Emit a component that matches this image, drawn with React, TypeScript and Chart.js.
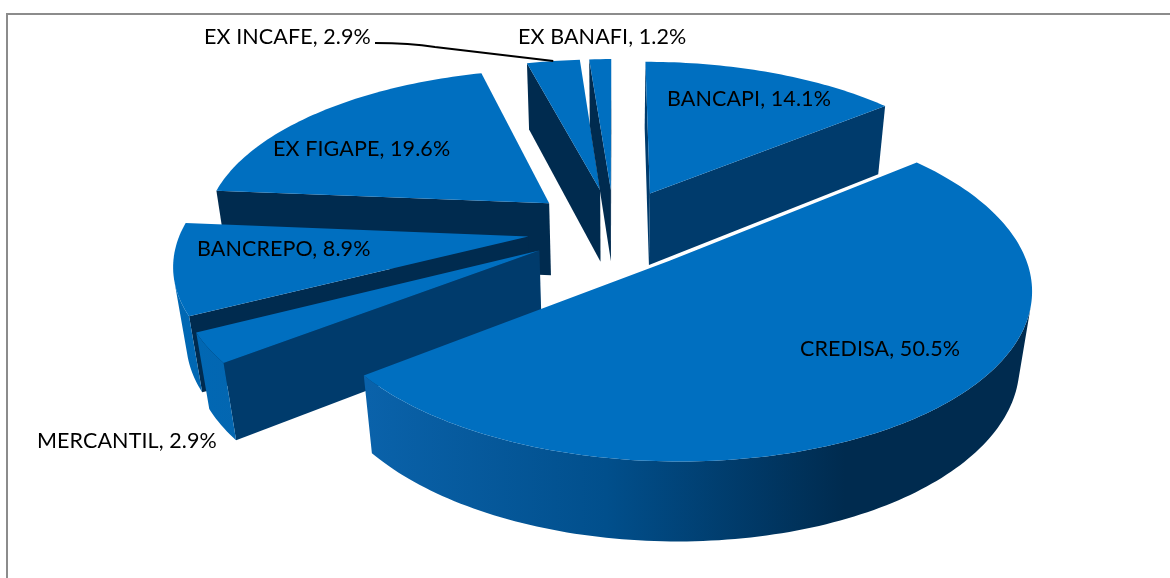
import React, { useEffect, useRef } from "react";
import { Chart, registerables } from "chart.js";

Chart.register(...registerables);

const categories = ["BANCAPI", "CREDISA", "MERCANTIL", "BANCREPO", "EX FIGAPE", "EX INCAFE", "EX BANAFI"];
const shares = [14.1, 50.5, 2.9, 8.9, 19.6, 2.9, 1.2];

const TOP_COLOR = "#006fc0";
const faceColors = ["#003b6c", "#002b4f", "#003b6c", "#002b4f", "#002b4f", "#002b4f", "#002b4f"];
const labelX = [667, 800, 37, 197, 273, 204, 518];
const labelY = [99, 349, 441, 249, 149, 37, 37];
const drawOrder = [4, 5, 6, 0, 3, 2, 1];
const LEADER_SLICE = 5;
const LEADER_START = [375, 43];

// Perspective camera for the tilted pie
const cam = { x0: 614, y0: 228.5, D: 6.79, F: 2354, G: 1090, H: 510, c: 0.2, explode: 0.25 };
const project = (X: number, Y: number, z: number) => {
  const w = cam.D + Y + cam.c * z;
  return [cam.x0 + (cam.F * X) / w, cam.y0 - (cam.G * Y) / w + (cam.H * z) / w];
};

const pie3d = {
  id: "pie3d",
  beforeDatasetsDraw(chart: any) {
    const ctx: CanvasRenderingContext2D = chart.ctx;
    const arcs = chart.getDatasetMeta(0).data;
    const wallFill = ctx.createLinearGradient(180, 0, 1032, 0);
    wallFill.addColorStop(0, "#0068b4");
    wallFill.addColorStop(0.22, "#0a62aa");
    wallFill.addColorStop(0.5, "#014f8c");
    wallFill.addColorStop(0.78, "#002b4f");
    wallFill.addColorStop(1, "#002b4f");

    const worldOf = (arc: any) => {
      const mid = (arc.startAngle + arc.endAngle) / 2;
      const ox = cam.explode * Math.cos(mid);
      const oy = cam.explode * Math.sin(mid);
      return (a: number, r: number) => [r * Math.cos(a) + ox, -(r * Math.sin(a) + oy)];
    };

    const faces = (p: number[], q: number[]) => {
      const a = project(p[0], p[1], 0), b = project(q[0], q[1], 0);
      const c = project(q[0], q[1], 1), d = project(p[0], p[1], 1);
      const pts = [a, b, c, d];
      let area = 0;
      pts.forEach((u, i) => {
        const v = pts[(i + 1) % 4];
        area += u[0] * v[1] - v[0] * u[1];
      });
      return area < 0;
    };

    const strip = (run: number[][], fill: any) => {
      if (run.length < 2) return;
      ctx.beginPath();
      run.forEach((p, i) => {
        const s = project(p[0], p[1], 0);
        if (i) ctx.lineTo(s[0], s[1]);
        else ctx.moveTo(s[0], s[1]);
      });
      [...run].reverse().forEach((p) => {
        const s = project(p[0], p[1], 1);
        ctx.lineTo(s[0], s[1]);
      });
      ctx.closePath();
      ctx.fillStyle = fill;
      ctx.fill();
    };

    ctx.save();
    for (const idx of drawOrder) {
      const arc = arcs[idx];
      const at = worldOf(arc);
      const n = Math.max(4, Math.ceil((arc.endAngle - arc.startAngle) / 0.02));
      const rim: number[][] = [];
      for (let i = 0; i <= n; i++) rim.push(at(arc.startAngle + ((arc.endAngle - arc.startAngle) * i) / n, 1));
      const apex = at(0, 0);
      if (faces(apex, rim[0])) strip([apex, rim[0]], faceColors[idx]);
      let run: number[][] = [];
      for (let i = 0; i < n; i++) {
        if (faces(rim[i], rim[i + 1])) {
          if (!run.length) run.push(rim[i]);
          run.push(rim[i + 1]);
        } else {
          strip(run, wallFill);
          run = [];
        }
      }
      strip(run, wallFill);
      if (faces(rim[n], apex)) strip([rim[n], apex], faceColors[idx]);
      ctx.beginPath();
      const pa = project(apex[0], apex[1], 0);
      ctx.moveTo(pa[0], pa[1]);
      rim.forEach((p) => {
        const s = project(p[0], p[1], 0);
        ctx.lineTo(s[0], s[1]);
      });
      ctx.closePath();
      ctx.fillStyle = arc.options.backgroundColor;
      ctx.fill();
    }

    const lead = arcs[LEADER_SLICE];
    const lw = worldOf(lead)((lead.startAngle + lead.endAngle) / 2, 1);
    const lp = project(lw[0], lw[1], 0);
    ctx.beginPath();
    ctx.moveTo(LEADER_START[0], LEADER_START[1]);
    ctx.quadraticCurveTo(LEADER_START[0] + 35, LEADER_START[1], LEADER_START[0] + 60, LEADER_START[1] + 4);
    ctx.lineTo(lp[0], lp[1]);
    ctx.strokeStyle = "#000000";
    ctx.lineWidth = 2;
    ctx.stroke();

    ctx.fillStyle = "#000000";
    ctx.font = '21.5px "Lato", sans-serif';
    (ctx as any).letterSpacing = "0.1px";
    ctx.textBaseline = "middle";
    ctx.textAlign = "left";
    categories.forEach((c, i) => ctx.fillText(`${c}, ${shares[i].toFixed(1)}%`, labelX[i], labelY[i]));
    ctx.restore();
    return false;
  },
};

export default function App() {
  const ref = useRef<HTMLCanvasElement>(null);
  useEffect(() => {
    const chart = new Chart(ref.current!, {
      type: "pie",
      data: {
        labels: categories,
        datasets: [{ data: shares, backgroundColor: TOP_COLOR, borderWidth: 0, offset: 0 }],
      },
      options: {
        animation: false,
        responsive: false,
        plugins: { legend: { display: false }, tooltip: { enabled: false } },
      },
      plugins: [pie3d],
    } as any);
    return () => chart.destroy();
  }, []);
  return (
    <div style={{ position: "fixed", left: 0, top: 0, width: 1170, height: 578, background: "#fff", overflow: "hidden" }}>
      <div style={{ position: "absolute", left: 6, top: 13, width: 1170, height: 600, borderLeft: "2px solid #8c8c8c", borderTop: "2px solid #8c8c8c" }} />
      <canvas ref={ref} width={1170} height={578} style={{ position: "absolute", left: 0, top: 0, display: "block" }} />
    </div>
  );
}
